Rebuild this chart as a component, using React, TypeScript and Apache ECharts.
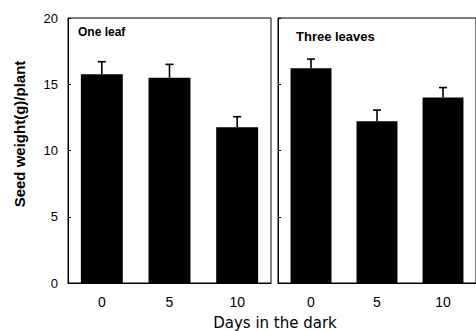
import React, { useEffect, useRef } from "react";
import * as echarts from "echarts";

const days = ["0", "5", "10"];
const oneLeafMeans = [15.75, 15.5, 11.75];
const oneLeafSE = [0.95, 1.0, 0.8];
const threeLeavesMeans = [16.2, 12.2, 14.0];
const threeLeavesSE = [0.7, 0.85, 0.75];
const yTicks = [0, 5, 10, 15, 20];

const FONT = "'Liberation Sans', Arial, sans-serif";
const WIDE_FONT = "'DejaVu Sans', sans-serif";

function errorSeries(means: number[], se: number[], axisIndex: number) {
  return {
    type: "custom",
    xAxisIndex: axisIndex,
    yAxisIndex: axisIndex,
    z: 3,
    data: means.map((m, i) => [i, m, m + se[i]]),
    renderItem: (params: any, api: any) => {
      const base = api.coord([api.value(0), api.value(1)]);
      const top = api.coord([api.value(0), api.value(2)]);
      const cap = 4;
      const style = { stroke: "#000", lineWidth: 1.6 };
      return {
        type: "group",
        children: [
          { type: "line", shape: { x1: base[0], y1: base[1], x2: top[0], y2: top[1] }, style },
          { type: "line", shape: { x1: top[0] - cap, y1: top[1], x2: top[0] + cap, y2: top[1] }, style },
        ],
      };
    },
  };
}

export default function App() {
  const ref = useRef<HTMLDivElement>(null);

  useEffect(() => {
    if (!ref.current) return;
    const chart = echarts.init(ref.current, null, { renderer: "svg" });
    const xAxisBase = {
      type: "category",
      data: days,
      boundaryGap: true,
      axisLine: { show: true, lineStyle: { color: "#000", width: 1 } },
      axisTick: { show: false },
      axisLabel: { color: "#000", fontSize: 14, fontFamily: FONT, margin: 12 },
      splitLine: { show: false },
    };
    const yAxisBase = {
      type: "value",
      min: yTicks[0],
      max: yTicks[yTicks.length - 1],
      interval: 5,
      splitLine: { show: false },
      axisLine: { show: true, lineStyle: { color: "#000", width: 1 } },
      axisTick: { show: true, inside: true, length: 3, lineStyle: { color: "#000" } },
    };
    chart.setOption({
      animation: false,
      backgroundColor: "#fff",
      grid: [
        { left: 68, top: 18, width: 203, height: 265, show: true, borderColor: "#000", borderWidth: 1 },
        { left: 278, top: 18, width: 203, height: 265, show: true, borderColor: "#000", borderWidth: 1 },
      ],
      xAxis: [
        { ...xAxisBase, gridIndex: 0 },
        { ...xAxisBase, gridIndex: 1 },
      ],
      yAxis: [
        {
          ...yAxisBase,
          gridIndex: 0,
          axisLabel: { color: "#000", fontSize: 13, fontFamily: FONT, margin: 10 },
        },
        {
          ...yAxisBase,
          gridIndex: 1,
          axisLabel: { show: false },
        },
      ],
      series: [
        {
          type: "bar",
          xAxisIndex: 0,
          yAxisIndex: 0,
          data: oneLeafMeans,
          barWidth: "62%",
          itemStyle: { color: "#000" },
        },
        {
          type: "bar",
          xAxisIndex: 1,
          yAxisIndex: 1,
          data: threeLeavesMeans,
          barWidth: "62%",
          itemStyle: { color: "#000" },
        },
        errorSeries(oneLeafMeans, oneLeafSE, 0),
        errorSeries(threeLeavesMeans, threeLeavesSE, 1),
      ],
      graphic: [
        {
          type: "text",
          x: 78,
          y: 32,
          style: { text: "One leaf", fill: "#000", font: `bold 12px ${FONT}`, verticalAlign: "middle" },
        },
        {
          type: "text",
          x: 296,
          y: 36,
          style: { text: "Three leaves", fill: "#000", font: `bold 13px ${FONT}`, verticalAlign: "middle" },
        },
        {
          type: "text",
          x: 19,
          y: 134,
          rotation: Math.PI / 2,
          style: {
            text: "Seed weight(g)/plant",
            fill: "#000",
            font: `bold 15px ${FONT}`,
            align: "center",
            verticalAlign: "middle",
          },
        },
        {
          type: "text",
          x: 275,
          y: 323,
          style: {
            text: "Days in the dark",
            fill: "#000",
            font: `15px ${WIDE_FONT}`,
            align: "center",
            verticalAlign: "middle",
          },
        },
      ],
    });
    return () => chart.dispose();
  }, []);

  return (
    <div
      ref={ref}
      style={{ position: "fixed", left: 0, top: 0, width: 476, height: 331 }}
    />
  );
}
